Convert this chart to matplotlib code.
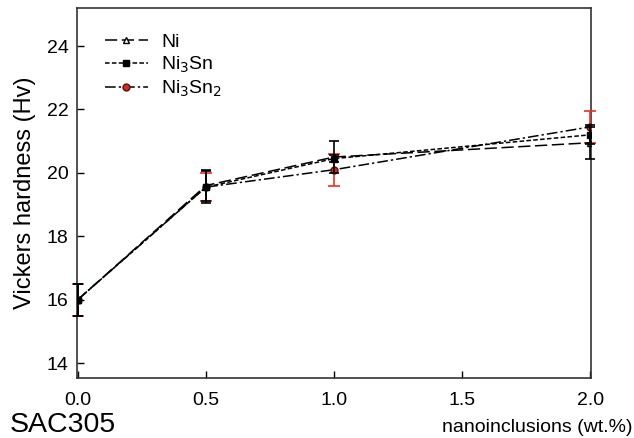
import numpy as np
import matplotlib
matplotlib.use("Agg")
import matplotlib.pyplot as plt
from matplotlib.lines import Line2D

plt.rcParams['font.family'] = ['Liberation Sans', 'DejaVu Sans']

# data
x = [0.0, 0.5, 1.0, 2.0]
ni = [16.0, 19.6, 20.5, 20.95]
ni_err = [0.5, 0.5, 0.5, 0.5]
ni3sn = [16.0, 19.55, 20.45, 21.2]
ni3sn_err = [0.5, 0.5, 0.1, 0.3]
ni3sn2 = [16.0, 19.55, 20.1, 21.45]
ni3sn2_err = [0.5, 0.45, 0.5, 0.5]

red = '#e8321e'
ls_ni = (0, (8, 3))
ls_ni3sn = (0, (3, 1.5))
ls_ni3sn2 = (0, (7, 2, 1.5, 2))

fig = plt.figure(figsize=(6.34, 4.38), dpi=100)
ax = fig.add_axes([77/634, 60/438, 514/634, 370/438])

series = [
    (ni3sn2, ni3sn2_err, ls_ni3sn2, 'o', 5, '#d62a1e', '#4a1a10', red, 4.5, 3),
    (ni3sn, ni3sn_err, ls_ni3sn, 's', 4, 'black', 'black', 'black', 3.5, 4),
    (ni, ni_err, ls_ni, '^', 5, 'none', 'black', 'black', 3.5, 5),
]
for y, e, ls, m, ms, fc, ec, errc, cs, z in series:
    _, caps, bars = ax.errorbar(x, y, yerr=e, color='black', ls=ls, lw=1.1,
                                marker=m, ms=ms, mfc=fc, mec=ec, ecolor=errc,
                                elinewidth=1.2, capsize=cs, capthick=1.2, zorder=z)
    for c in caps:
        c.set_clip_on(False)
    for b in bars:
        b.set_clip_on(False)

ax.set_xlim(-0.003, 2.003)
ax.set_ylim(13.53, 25.2)
ax.set_xticks([0.0, 0.5, 1.0, 1.5, 2.0])
ax.set_yticks([14, 16, 18, 20, 22, 24])
ax.tick_params(direction='in', length=5, labelsize=14, width=1)
ax.tick_params(axis='x', pad=10)
ax.tick_params(axis='y', pad=6)
for s in ax.spines.values():
    s.set_linewidth(1.2)
    s.set_color('#333333')

ax.set_ylabel('Vickers hardness (Hv)', fontsize=17, labelpad=8)

handles = [
    Line2D([], [], color='black', ls=ls_ni, lw=1.1, marker='^', ms=5, mfc='white', mec='black'),
    Line2D([], [], color='black', ls=ls_ni3sn, lw=1.1, marker='s', ms=4, mfc='black', mec='black'),
    Line2D([], [], color='black', ls=ls_ni3sn2, lw=1.1, marker='o', ms=5, mfc='#d62a1e', mec='#4a1a10'),
]
labels = ['Ni', 'Ni$_3$Sn', 'Ni$_3$Sn$_2$']
ax.legend(handles, labels, loc='upper left', bbox_to_anchor=(0.02, 0.98),
          frameon=False, fontsize=14, handlelength=2.2, labelspacing=0.2,
          handletextpad=0.7)

fig.text(10/634, 1 - 425/438, 'SAC305', fontsize=20.5, va='center', ha='left')
fig.text(632/634, 1 - 427/438, 'nanoinclusions (wt.%)', fontsize=14, va='center', ha='right')

fig.savefig('out.png', dpi=100)
